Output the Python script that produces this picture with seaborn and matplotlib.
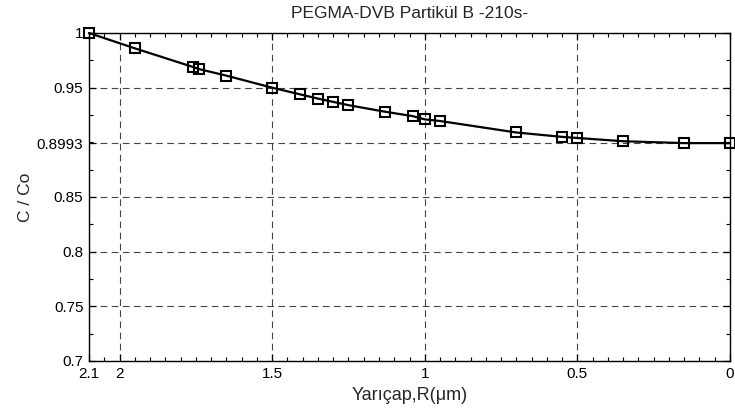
import matplotlib
matplotlib.use("Agg")
import matplotlib.pyplot as plt
import seaborn as sns
import numpy as np
import pandas as pd
from matplotlib.ticker import MultipleLocator

# Data
radius = [2.1, 1.95, 1.76, 1.74, 1.65, 1.5, 1.41, 1.35, 1.3, 1.25,
          1.13, 1.04, 1.0, 0.95, 0.7, 0.55, 0.5, 0.35, 0.15, 0.0]
conc = [1.0, 0.986, 0.969, 0.967, 0.961, 0.950, 0.944, 0.940, 0.937, 0.934,
        0.928, 0.924, 0.921, 0.9195, 0.909, 0.905, 0.904, 0.901, 0.8993, 0.8993]
xticks = [2.1, 2, 1.5, 1, 0.5, 0]
xticklabels = ["2.1", "2", "1.5", "1", "0.5", "0"]
yticks = [0.7, 0.75, 0.8, 0.85, 0.8993, 0.95, 1.0]
yticklabels = ["0.7", "0.75", "0.8", "0.85", "0.8993", "0.95", "1"]
title = "PEGMA-DVB Partikül B -210s-"
xlabel = "Yarıçap,R(μm)"
ylabel = "C / Co"

sns.set_style("white")
plt.rcParams['font.family'] = ['Liberation Sans', 'DejaVu Sans']

fig = plt.figure(figsize=(7.35, 4.18), dpi=100)
ax = fig.add_axes([89/735, 1-361/418, (730-89)/735, (361-33)/418])

df = pd.DataFrame({"R": radius, "C": conc})
sns.lineplot(data=df, x="R", y="C", ax=ax, sort=False, color="black",
             linewidth=1.6, marker="s", markersize=6.5, markerfacecolor="none",
             markeredgecolor="black", markeredgewidth=1.5, zorder=3,
             clip_on=False)

ax.set_xlim(2.1, 0)
ax.set_ylim(0.7, 1.0)

ax.set_xticks(xticks)
ax.set_xticklabels(xticklabels)
ax.set_yticks(yticks)
ax.set_yticklabels(yticklabels)
ax.xaxis.set_minor_locator(MultipleLocator(0.05))
ax.yaxis.set_minor_locator(MultipleLocator(0.025))

ax.tick_params(axis="both", which="both", direction="in", top=True, right=True,
               bottom=True, left=True, labelsize=11, colors="black")
ax.tick_params(which="major", length=5, width=0.9, pad=4)
ax.tick_params(which="minor", length=3, width=0.8)

ax.grid(True, which="major", linestyle=(0, (6, 4)), color="#444444", linewidth=0.8)
ax.set_axisbelow(True)

for sp in ax.spines.values():
    sp.set_color("black")
    sp.set_linewidth(1.0)

ax.set_title(title, fontsize=12.5, pad=11)
ax.set_xlabel(xlabel, fontsize=13, labelpad=5)
ax.set_ylabel(ylabel, fontsize=12.5, labelpad=3)

fig.savefig("out.png", dpi=100)
